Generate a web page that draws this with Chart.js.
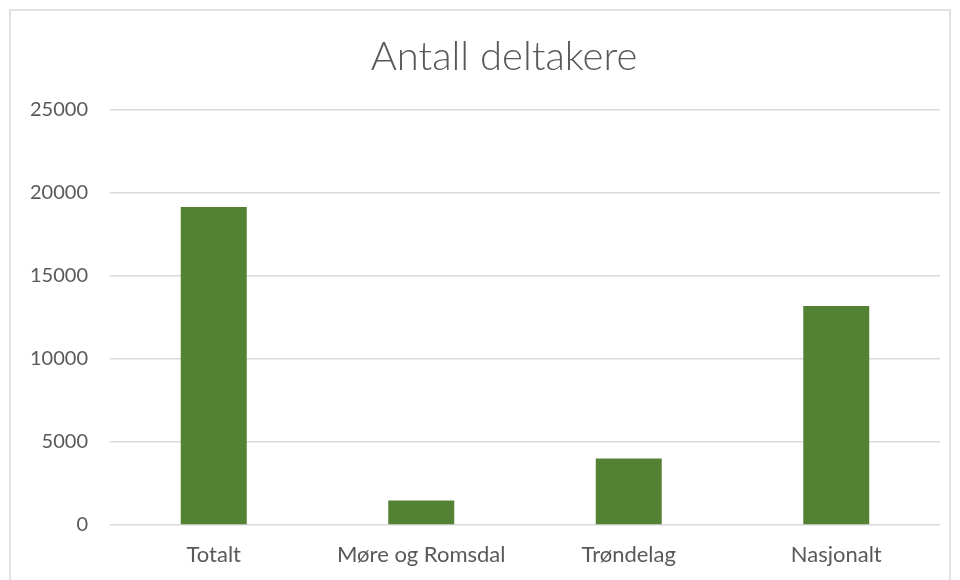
<!DOCTYPE html>
<html>
<head>
<meta charset="utf-8">
<script src="https://cdn.jsdelivr.net/npm/chart.js@4"></script>
<style>
  html, body { margin: 0; padding: 0; background: #fff; }
  #wrap { width: 960px; height: 580px; position: relative; }
</style>
</head>
<body>
<div id="wrap"><canvas id="chart"></canvas></div>
<script>
const categories = ["Totalt", "Møre og Romsdal", "Trøndelag", "Nasjonalt"];
const deltakere = [19150, 1470, 4000, 13200];
const yTicks = [0, 5000, 10000, 15000, 20000, 25000];
const chartTitle = "Antall deltakere";

const textColor = "#595959";
const fontFamily = "Lato, 'Open Sans', sans-serif";

// light frame round the chart + title centred like in Excel (a bit left of plot centre)
const frame = {
  id: "frame",
  beforeDraw(chart) {
    const ctx = chart.ctx;
    ctx.save();
    ctx.fillStyle = "#ffffff";
    ctx.fillRect(0, 0, chart.width, chart.height);
    ctx.strokeStyle = "#d9d9d9";
    ctx.lineWidth = 1.5;
    ctx.strokeRect(10, 10, 940, 620);
    ctx.fillStyle = textColor;
    ctx.font = "300 40px " + fontFamily;
    ctx.textAlign = "center";
    ctx.textBaseline = "middle";
    ctx.fillText(chartTitle, 504, 57);
    ctx.restore();
  }
};

new Chart(document.getElementById("chart").getContext("2d"), {
  type: "bar",
  data: {
    labels: categories,
    datasets: [{
      label: chartTitle,
      data: deltakere,
      backgroundColor: "#548235",
      borderWidth: 0,
      categoryPercentage: 1,
      barPercentage: 0.318
    }]
  },
  options: {
    responsive: true,
    maintainAspectRatio: false,
    animation: false,
    layout: { padding: { top: 110, right: 20, bottom: 0, left: 0 } },
    plugins: {
      legend: { display: false },
      tooltip: { enabled: false },
      title: { display: false }
    },
    scales: {
      x: {
        afterFit(scale) {
          scale.height = 55;
        },
        grid: { display: false, drawTicks: false },
        border: { display: false },
        ticks: {
          color: textColor,
          font: { family: fontFamily, size: 22 },
          padding: 17,
          maxRotation: 0
        }
      },
      y: {
        min: 0,
        max: 25000,
        afterBuildTicks(scale) {
          scale.ticks = yTicks.map(v => ({ value: v }));
        },
        afterFit(scale) {
          scale.width = 110;
        },
        grid: { color: "#d9d9d9", lineWidth: 1.5, drawTicks: false },
        border: { display: false },
        ticks: {
          color: textColor,
          font: { family: fontFamily, size: 20 },
          padding: 22,
          callback: v => String(v)
        }
      }
    }
  },
  plugins: [frame]
});
</script>
</body>
</html>
